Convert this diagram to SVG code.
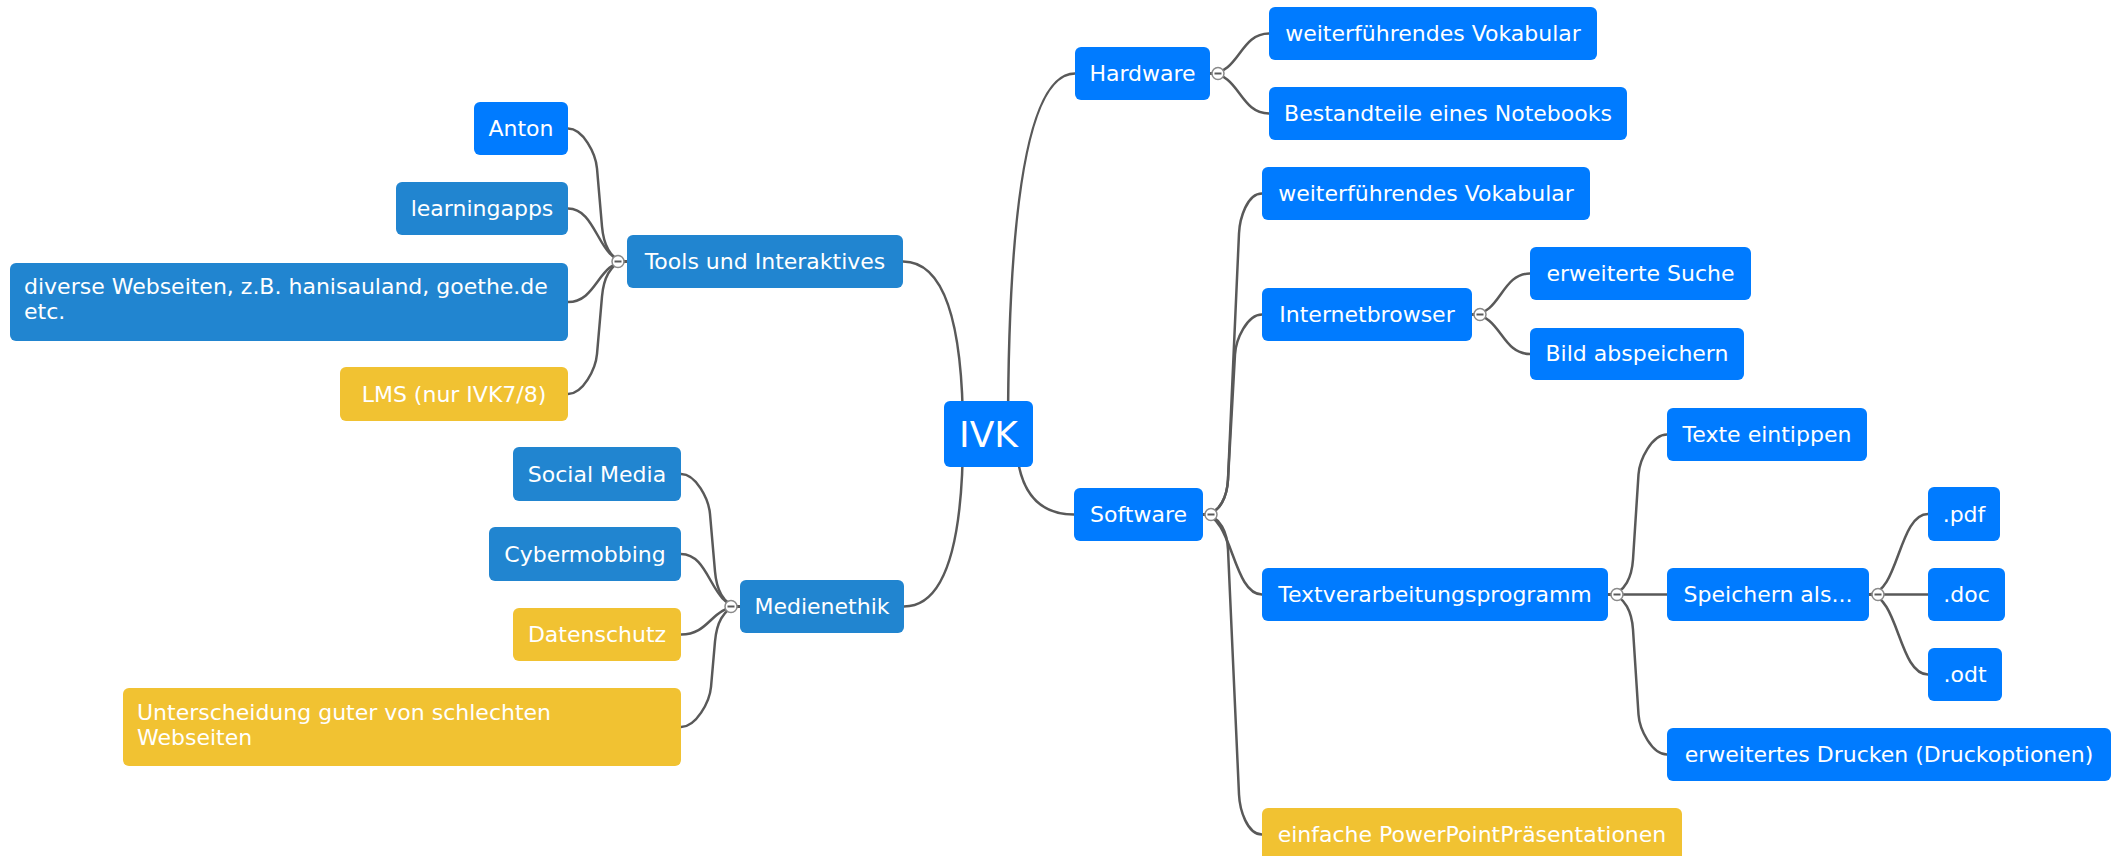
<svg xmlns="http://www.w3.org/2000/svg" width="2123" height="856" viewBox="0 0 2123 856">
<style>
  .n rect { rx: 6px; ry: 6px; }
  .b rect { fill: #007bff; }
  .d rect { fill: #2185d0; }
  .y rect { fill: #f1c232; }
  text { font-family: "DejaVu Sans", Verdana, sans-serif; font-size: 22px; fill: #ffffff; }
  .c { text-anchor: middle; }
  .links path { fill: none; stroke: #595959; stroke-width: 2.5; }
  .tog circle { fill: #ffffff; stroke: #8a8a8a; stroke-width: 1.5; }
  .tog line { stroke: #5a5a5a; stroke-width: 2; }
</style>
<rect width="2123" height="856" fill="#ffffff"/>

<g class="links">
  <!-- root branches -->
  <path d="M 1008 434 Q 1008 73.5 1075 73.5"/>
  <path d="M 1016 434 Q 1016 514.5 1074 514.5"/>
  <path d="M 963 434 Q 963 261.5 903 261.5"/>
  <path d="M 963 434 Q 963 606.5 904 606.5"/>
  <!-- Hardware -->
  <path d="M 1210 73.5 C 1239.5 73.5 1239.5 33.5 1269 33.5"/>
  <path d="M 1210 73.5 C 1239.5 73.5 1239.5 113.5 1269 113.5"/>
  <!-- Software -->
  <path d="M 1203 514.5 C 1221 514.5 1227.3 494.5 1228 479.5 L 1239 233.5 C 1239.7 218.5 1247 193.5 1262 193.5"/>
  <path d="M 1203 514.5 C 1221 514.5 1227.2 494.5 1228 479.5 L 1235 354.5 C 1235.8 339.5 1247 314.5 1262 314.5"/>
  <path d="M 1203 514.5 C 1232.5 514.5 1232.5 594.5 1262 594.5"/>
  <path d="M 1203 514.5 C 1221 514.5 1227.3 534.5 1228 549.5 L 1239 794.5 C 1239.7 809.5 1247 834.5 1262 834.5"/>
  <!-- Internetbrowser -->
  <path d="M 1472 314.5 C 1501 314.5 1501 273.5 1530 273.5"/>
  <path d="M 1472 314.5 C 1501 314.5 1501 354 1530 354"/>
  <!-- Textverarbeitungsprogramm -->
  <path d="M 1608 594.5 C 1626 594.5 1632 574.5 1633 559.5 L 1638.5 474.5 C 1639.5 459.5 1652 434.5 1667 434.5"/>
  <path d="M 1608 594.5 L 1667 594.5"/>
  <path d="M 1608 594.5 C 1626 594.5 1632 614.5 1633 629.5 L 1638.5 714.5 C 1639.5 729.5 1652 754.5 1667 754.5"/>
  <!-- Speichern als -->
  <path d="M 1869 594.5 C 1898.5 594.5 1898.5 514 1928 514"/>
  <path d="M 1869 594.5 L 1928 594.5"/>
  <path d="M 1869 594.5 C 1898.5 594.5 1898.5 674.5 1928 674.5"/>
  <!-- Tools -->
  <path d="M 627 261.5 C 609 261.5 603.3 241.5 602 226.5 L 597 168.5 C 595.7 153.5 583 128.5 568 128.5"/>
  <path d="M 627 261.5 C 597.5 261.5 597.5 208.5 568 208.5"/>
  <path d="M 627 261.5 C 597.5 261.5 597.5 302 568 302"/>
  <path d="M 627 261.5 C 609 261.5 603.3 281.5 602 296.5 L 597 354 C 595.7 369 583 394 568 394"/>
  <!-- Medienethik -->
  <path d="M 740 606.5 C 722 606.5 716.3 586.5 715 571.5 L 710 514 C 708.7 499 696 474 681 474"/>
  <path d="M 740 606.5 C 710.5 606.5 710.5 554 681 554"/>
  <path d="M 740 606.5 C 710.5 606.5 710.5 634.5 681 634.5"/>
  <path d="M 740 606.5 C 722 606.5 716.3 626.5 715 641.5 L 711 687 C 709.7 702 696 727 681 727"/>
</g>

<g id="root" class="n b"><rect x="944" y="401" width="89" height="66"/><text class="c" x="988.5" y="447" style="font-size:36px">IVK</text></g>

<g id="hardware" class="n b"><rect x="1075" y="47" width="135" height="53"/><text class="c" x="1142.5" y="81">Hardware</text></g>
<g id="hw-vokabular" class="n b"><rect x="1269" y="7" width="328" height="53"/><text class="c" x="1433" y="41">weiterführendes Vokabular</text></g>
<g id="hw-notebook" class="n b"><rect x="1269" y="87" width="358" height="53"/><text class="c" x="1448" y="121">Bestandteile eines Notebooks</text></g>

<g id="software" class="n b"><rect x="1074" y="488" width="129" height="53"/><text class="c" x="1138.5" y="522">Software</text></g>
<g id="sw-vokabular" class="n b"><rect x="1262" y="167" width="328" height="53"/><text class="c" x="1426" y="201">weiterführendes Vokabular</text></g>
<g id="internetbrowser" class="n b"><rect x="1262" y="288" width="210" height="53"/><text class="c" x="1367" y="322">Internetbrowser</text></g>
<g id="suche" class="n b"><rect x="1530" y="247" width="221" height="53"/><text class="c" x="1640.5" y="281">erweiterte Suche</text></g>
<g id="bild" class="n b"><rect x="1530" y="328" width="214" height="52"/><text class="c" x="1637" y="361">Bild abspeichern</text></g>
<g id="textverarbeitung" class="n b"><rect x="1262" y="568" width="346" height="53"/><text class="c" x="1435" y="602">Textverarbeitungsprogramm</text></g>
<g id="texte" class="n b"><rect x="1667" y="408" width="200" height="53"/><text class="c" x="1767" y="442">Texte eintippen</text></g>
<g id="speichern" class="n b"><rect x="1667" y="568" width="202" height="53"/><text class="c" x="1768" y="602">Speichern als...</text></g>
<g id="pdf" class="n b"><rect x="1928" y="487" width="72" height="54"/><text class="c" x="1964" y="522">.pdf</text></g>
<g id="doc" class="n b"><rect x="1928" y="568" width="77" height="53"/><text class="c" x="1966.5" y="602">.doc</text></g>
<g id="odt" class="n b"><rect x="1928" y="648" width="74" height="53"/><text class="c" x="1965" y="682">.odt</text></g>
<g id="drucken" class="n b"><rect x="1667" y="728" width="444" height="53"/><text class="c" x="1889" y="762">erweitertes Drucken (Druckoptionen)</text></g>
<g id="powerpoint" class="n y"><rect x="1262" y="808" width="420" height="53"/><text class="c" x="1472" y="842">einfache PowerPointPräsentationen</text></g>

<g id="tools" class="n d"><rect x="627" y="235" width="276" height="53"/><text class="c" x="765" y="269">Tools und Interaktives</text></g>
<g id="anton" class="n b"><rect x="474" y="102" width="94" height="53"/><text class="c" x="521" y="136">Anton</text></g>
<g id="learningapps" class="n d"><rect x="396" y="182" width="172" height="53"/><text class="c" x="482" y="216">learningapps</text></g>
<g id="webseiten" class="n d"><rect x="10" y="263" width="558" height="78"/><text x="24" y="294">diverse Webseiten, z.B. hanisauland, goethe.de</text><text x="24" y="319">etc.</text></g>
<g id="lms" class="n y"><rect x="340" y="367" width="228" height="54"/><text class="c" x="454" y="402">LMS (nur IVK7/8)</text></g>

<g id="medienethik" class="n d"><rect x="740" y="580" width="164" height="53"/><text class="c" x="822" y="614">Medienethik</text></g>
<g id="social" class="n d"><rect x="513" y="447" width="168" height="54"/><text class="c" x="597" y="482">Social Media</text></g>
<g id="cyber" class="n d"><rect x="489" y="527" width="192" height="54"/><text class="c" x="585" y="562">Cybermobbing</text></g>
<g id="datenschutz" class="n y"><rect x="513" y="608" width="168" height="53"/><text class="c" x="597" y="642">Datenschutz</text></g>
<g id="unterscheidung" class="n y"><rect x="123" y="688" width="558" height="78"/><text x="137" y="720">Unterscheidung guter von schlechten</text><text x="137" y="745">Webseiten</text></g>

<g class="tog">
  <g><circle cx="1218" cy="73.5" r="6"/><line x1="1214.5" y1="73.5" x2="1221.5" y2="73.5"/></g>
  <g><circle cx="1211" cy="514.5" r="6"/><line x1="1207.5" y1="514.5" x2="1214.5" y2="514.5"/></g>
  <g><circle cx="1480" cy="314.5" r="6"/><line x1="1476.5" y1="314.5" x2="1483.5" y2="314.5"/></g>
  <g><circle cx="1617" cy="594.5" r="6"/><line x1="1613.5" y1="594.5" x2="1620.5" y2="594.5"/></g>
  <g><circle cx="1878" cy="594.5" r="6"/><line x1="1874.5" y1="594.5" x2="1881.5" y2="594.5"/></g>
  <g><circle cx="618" cy="261.5" r="6"/><line x1="614.5" y1="261.5" x2="621.5" y2="261.5"/></g>
  <g><circle cx="731" cy="606.5" r="6"/><line x1="727.5" y1="606.5" x2="734.5" y2="606.5"/></g>
</g>
</svg>
